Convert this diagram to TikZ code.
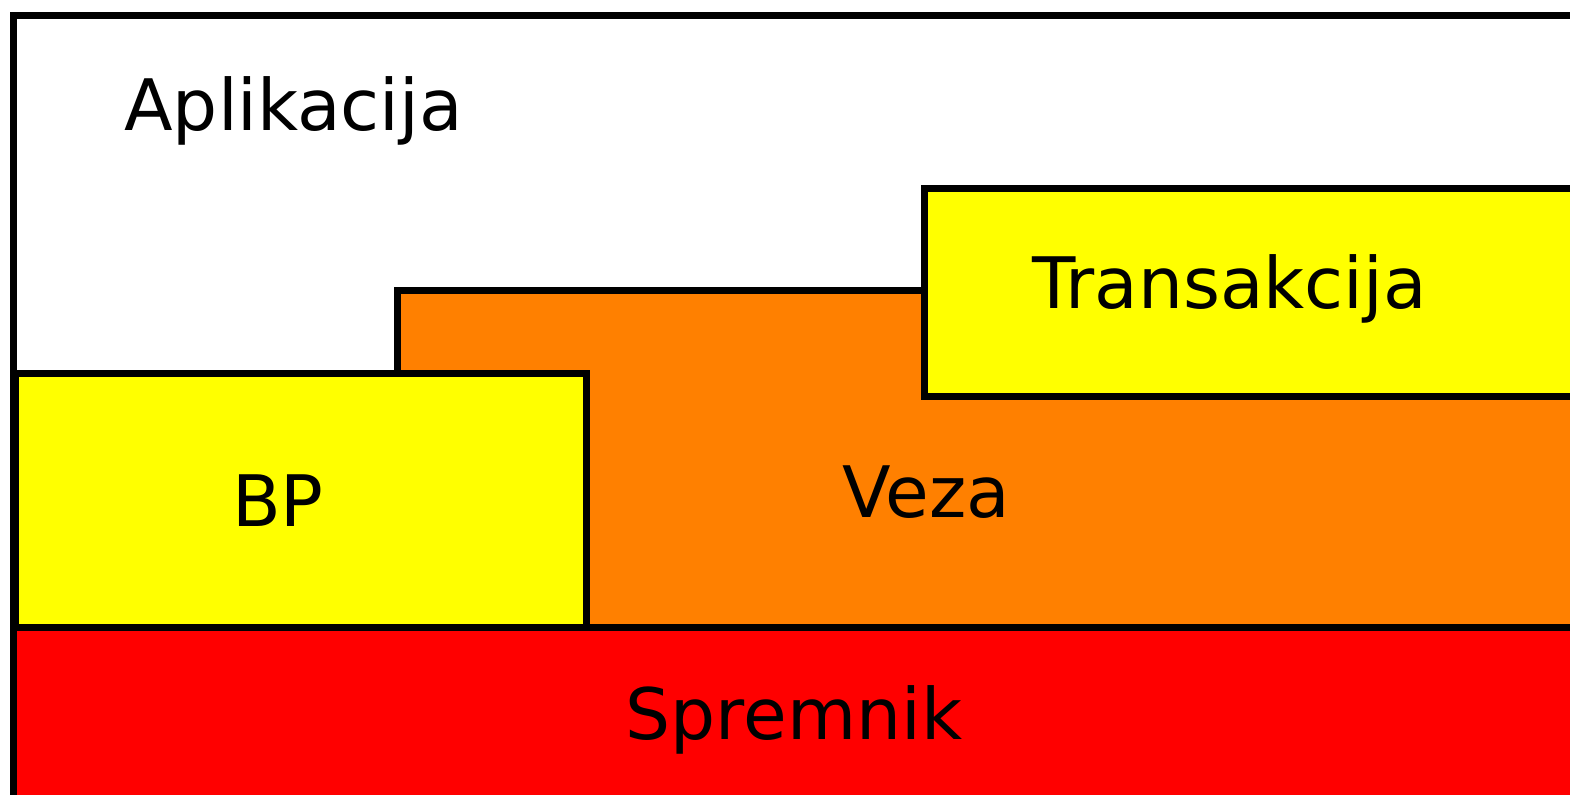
\documentclass[tikz,border=0pt]{standalone}
\usepackage{fontspec}
\setmainfont{DejaVu Sans}
\definecolor{layerorange}{RGB}{255,128,0}
\definecolor{layeryellow}{RGB}{255,255,0}
\definecolor{layerred}{RGB}{255,0,0}
\begin{document}
\begin{tikzpicture}[x=0.5pt,y=-0.5pt,
  layer/.style={draw=black,line width=3.5pt,line join=miter},
  lbl/.style={anchor=base,inner sep=0pt,font=\fontsize{35.5pt}{42pt}\selectfont}]
\useasboundingbox (0,0) rectangle (1570,795);
\clip (0,0) rectangle (1570,795);
% application frame
\draw[layer,fill=white] (13.5,15.5) rectangle (1620,850);
% connection layer
\draw[layer,fill=layerorange] (397,291) rectangle (1620,628);
% transaction layer
\draw[layer,fill=layeryellow] (924,188.5) rectangle (1620,397);
% database layer
\draw[layer,fill=layeryellow] (15,374) rectangle (586,628);
% storage layer
\draw[layer,fill=layerred] (13.5,628) rectangle (1620,850);
\node[lbl,anchor=base west] (app) at (124,131) {Aplikacija};
\node[lbl] (trans) at (1229.5,309) {Transakcija};
\node[lbl] (bp) at (278,527) {BP};
\node[lbl] (veza) at (926,518) {Veza};
\node[lbl] (store) at (794,740) {Spremnik};
\end{tikzpicture}
\end{document}
